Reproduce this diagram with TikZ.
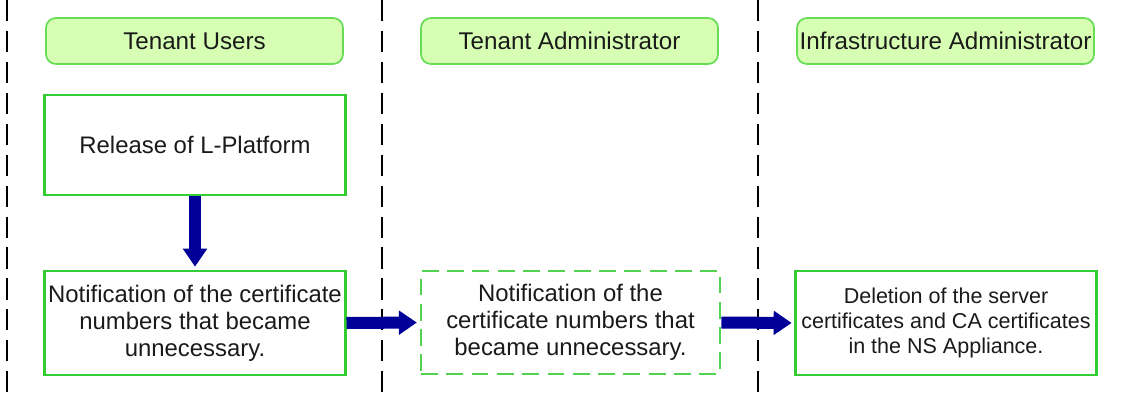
\documentclass[tikz,border=0pt]{standalone}
\usepackage{fontspec}
\setmainfont{Liberation Sans}
\usepackage{xcolor}
\usepackage{tikz}
\usetikzlibrary{arrows.meta}
\definecolor{laneGreen}{HTML}{33CC33}
\definecolor{headFill}{HTML}{D6FFB3}
\definecolor{headLine}{HTML}{66DD55}
\definecolor{flowBlue}{HTML}{000099}
\definecolor{txtGray}{HTML}{1A1A1A}

\begin{document}
\begin{tikzpicture}[x=0.025cm,y=-0.025cm,
  head/.style={draw=headLine,fill=headFill,line width=1.2pt,rounded corners=0.25cm,
    minimum width=7.425cm,minimum height=1.15cm,inner sep=0pt,
    font=\fontsize{17.2}{19}\selectfont,text=txtGray},
  task/.style={draw=laneGreen,line width=2.1pt,minimum width=7.5cm,minimum height=2.6cm,
    inner sep=0pt,align=center,font=\fontsize{17}{19.2}\selectfont,text=txtGray},
  flow/.style={-{Triangle[length=0.45cm,width=0.58cm]},line width=0.3cm,flowBlue,shorten >=2pt}]
  \useasboundingbox (0,0) rectangle (1123,401);
  % Lane separators
  \foreach \lx in {7,382,758}
    \draw[line width=1.1pt,dash pattern=on 15 off 7] (\lx,0) -- (\lx,401);
  % Lane headers
  \node[head] (users) at (194.5,41) {Tenant Users};
  \node[head] (tadmin) at (569.5,41) {Tenant Administrator};
  \node[head] (iadmin) at (945.5,41) {Infrastructure Administrator};
  % Tasks
  \node[task,minimum height=2.5cm] (release) at (195,145) {Release of L-Platform};
  \node[task] (notify) at (195,323)
    {Notification of the certificate\\numbers that became\\unnecessary.};
  \node[task,draw=laneGreen!85,dash pattern=on 12 off 6,line width=1.8pt,
    minimum width=7.475cm,minimum height=2.575cm] (forward) at (570.5,322.5)
    {Notification of the\\certificate numbers that\\became unnecessary.};
  \node[task,font=\fontsize{15.3}{17.8}\selectfont] (delete) at (946,323)
    {Deletion of the server\\certificates and CA certificates\\in the NS Appliance.};
  % Flow
  \draw[flow] (release.south) -- (notify.north);
  \draw[flow] (notify.east) -- (forward.west);
  \draw[flow] (forward.east) -- (delete.west);
\end{tikzpicture}
\end{document}
